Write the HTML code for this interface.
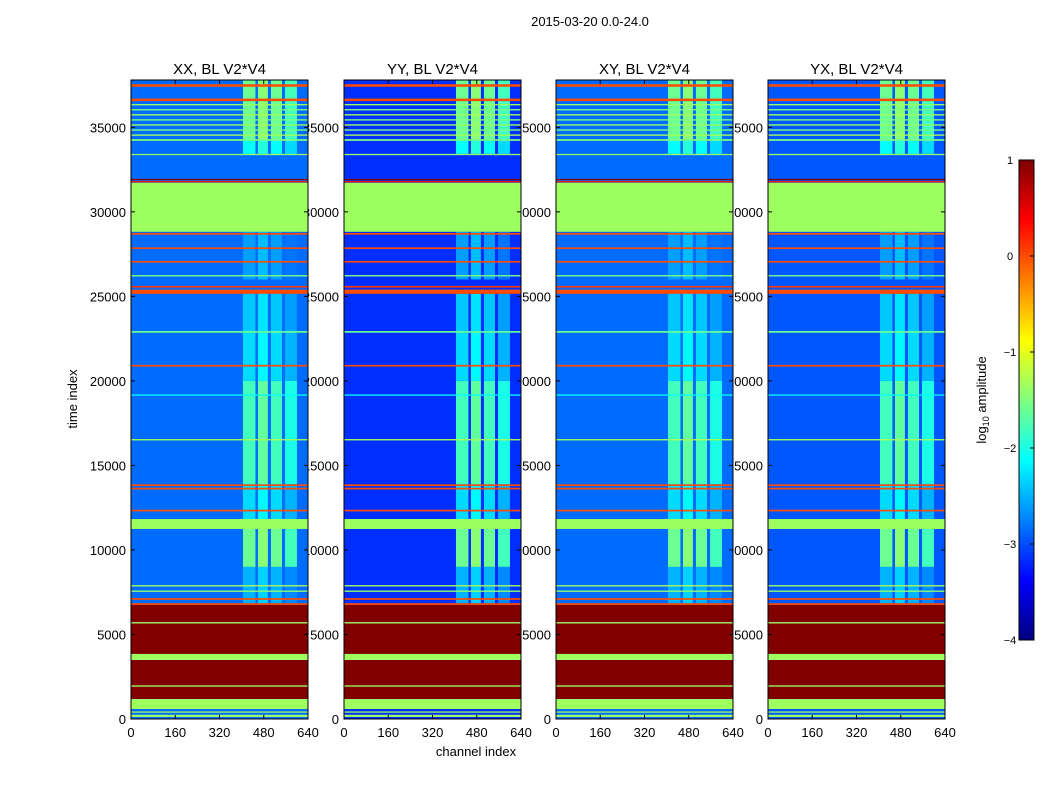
<!DOCTYPE html>
<html><head><meta charset="utf-8"><style>
body{margin:0;background:#fff;}
svg text{font-family:"Liberation Sans",sans-serif;fill:#000;}
</style></head><body>
<svg id="fig" width="1050" height="800" xmlns="http://www.w3.org/2000/svg">
<text x="590" y="26" font-size="13" text-anchor="middle">2015-03-20 0.0-24.0</text>
<text x="476" y="756" font-size="13" text-anchor="middle">channel index</text>
<text transform="translate(77,399) rotate(-90)" font-size="13" text-anchor="middle">time index</text>
<g id="panels"></g>
<g id="cbar"></g>
</svg>
<script>
// ---- data ----
const panelTitles = ["XX, BL V2*V4","YY, BL V2*V4","XY, BL V2*V4","YX, BL V2*V4"];
const panelBackground = [-2.85, -3.15, -2.85, -2.95];
const xTicks = [0,160,320,480,640];
const yTicks = [0,5000,10000,15000,20000,25000,30000,35000];
const cbarTicks = [1,0,-1,-2,-3,-4];
// horizontal bands: start time, end time, log10 amplitude
const bandStart = [37400,36550,36300,36000,35700,35400,35100,34800,34500,34200,33850,32370,31900,28820,28650,27800,27000,26180,25520,25150,22850,20850,19130,16480,13780,13580,12280,11240,7840,7520,7050,6750,5650,3490,1920,590,380,120];
const bandEnd   = [37550,36700,36380,36080,35780,35480,35180,34880,34580,34300,33430,31950,31820,31720,28750,27900,27100,26260,25620,25400,22950,20950,19200,16560,13880,13680,12380,11830,7920,7600,7150,6850,5730,3850,1990,1180,450,250];
const bandValue = [0.0,0.0,-1.35,-1.5,-1.3,-1.5,-1.35,-1.5,-1.3,-1.5,-1.35,1.0,0.3,-1.35,0.0,0.0,0.0,-1.5,0.1,0.0,-1.6,0.0,-2.1,-1.3,0.0,0.0,0.0,-1.35,-1.3,-1.4,0.0,0.0,-1.35,-1.35,-1.35,-1.35,-1.35,-1.35];
// dark red (saturated) region
const satStart = [6750];
const satEnd = [1180];
// RFI channel stripes
const rfiStart = [405,459,506,557];
const rfiEnd = [450,495,546,600];
// RFI time segments: start, end, amplitude
const rfiTStart = [6850,9000,11830,13900,20000,23000,26000,33430,34300];
const rfiTEnd = [9000,11240,13900,20000,23000,25150,28820,34300,37800];
const rfiValue = [-2.5,-1.6,-2.3,-1.8,-2.3,-2.4,-2.6,-2.1,-1.6];

// ---- helpers ----
function jet(v){
  let t=(v+4)/5; t=Math.max(0,Math.min(1,t));
  const c=x=>Math.round(255*Math.max(0,Math.min(1,x)));
  const r=c(Math.min(4*t-1.5,-4*t+4.5)), g=c(Math.min(4*t-0.5,-4*t+3.5)), b=c(Math.min(4*t+0.5,-4*t+2.5));
  return `rgb(${r},${g},${b})`;
}
const NS="http://www.w3.org/2000/svg";
function el(tag,attrs,parent){const e=document.createElementNS(NS,tag);for(const k in attrs)e.setAttribute(k,attrs[k]);parent.appendChild(e);return e;}
const panelX=[131,344,556,768], PW=177, Y0=719, Y1=80, TMAX=37800, CMAX=640;
const panelsG=document.getElementById('panels');

panelX.forEach((px,p)=>{
  const ys=t=>Y0-t/TMAX*(Y0-Y1);
  yTicks.forEach(v=>{
    const t=el('text',{x:px-5,y:ys(v)+5,'font-size':13,'text-anchor':'end'},panelsG);
    t.textContent=v;
    
    
  });
});
panelX.forEach((px,p)=>{
  const xs=c=>px+c/CMAX*PW;
  const ys=t=>Y0-t/TMAX*(Y0-Y1);
  const g=el('g',{},panelsG);
  
  
  el('rect',{x:px,y:Y1,width:PW,height:Y0-Y1,fill:jet(panelBackground[p])},g);
  rfiTStart.forEach((ts,i)=>{
    rfiStart.forEach((cs,j)=>{
      const r=el('rect',{x:xs(cs),y:ys(rfiTEnd[i]),width:xs(rfiEnd[j])-xs(cs),height:ys(ts)-ys(rfiTEnd[i]),fill:jet(rfiValue[i]+(j==1?0.15:0)+(j==3?-0.2:0))},g);
      
      
    });
  });
  satStart.forEach((s,i)=>{
    const r=el('rect',{x:px,y:ys(s),width:PW,height:ys(satEnd[i])-ys(s),fill:jet(1)},g);
    
    
  });
  bandStart.forEach((s,i)=>{
    const h=Math.max(1.3,ys(s)-ys(bandEnd[i]));
    const r=el('rect',{x:px,y:ys(bandEnd[i]),width:PW,height:h,fill:jet(bandValue[i])},g);
    
    
  });
  el('rect',{x:px,y:Y1,width:PW,height:Y0-Y1,fill:'none',stroke:'#000','stroke-width':1},g);
  yTicks.forEach(v=>{
    el('line',{x1:px,x2:px+4,y1:ys(v),y2:ys(v),stroke:'#000'},g);
    el('line',{x1:px+PW,x2:px+PW-4,y1:ys(v),y2:ys(v),stroke:'#000'},g);
  });
  xTicks.forEach(v=>{
    el('line',{x1:xs(v),x2:xs(v),y1:Y0,y2:Y0-4,stroke:'#000'},g);
    el('line',{x1:xs(v),x2:xs(v),y1:Y1,y2:Y1+4,stroke:'#000'},g);
    const t=el('text',{x:xs(v),y:Y0+18,'font-size':13,'text-anchor':'middle'},g);
    t.textContent=v;
    
    
  });
  const tt=el('text',{x:px+PW/2,y:74,'font-size':15,'text-anchor':'middle'},g);
  tt.textContent=panelTitles[p];
  
  
});

// colorbar
const cb=document.getElementById('cbar');
const CX=1019,CW=15,CT=160,CB=640;
const cy=v=>CB-(v+4)/5*(CB-CT);
for(let i=0;i<120;i++){
  const v0=-4+5*i/120, v1=-4+5*(i+1)/120;
  el('rect',{x:CX,y:cy(v1),width:CW,height:cy(v0)-cy(v1)+0.5,fill:jet((v0+v1)/2)},cb);
}
el('rect',{x:CX,y:CT,width:CW,height:CB-CT,fill:'none',stroke:'#000'},cb);
cbarTicks.forEach(v=>{
  el('line',{x1:CX+CW-4,x2:CX+CW,y1:cy(v),y2:cy(v),stroke:'#000'},cb);
  const t=el('text',{x:CX-9,y:cy(v)+4,'font-size':11,'text-anchor':'middle'},cb);
  t.textContent=v<0?'\u2212'+(-v):v;
  
  
});
const lab=el('text',{transform:'translate(986,400) rotate(-90)','font-size':13,'text-anchor':'middle'},cb);
lab.innerHTML='log<tspan font-size="9" dy="3">10</tspan><tspan dy="-3"> amplitude</tspan>';


</script>
</body></html>
